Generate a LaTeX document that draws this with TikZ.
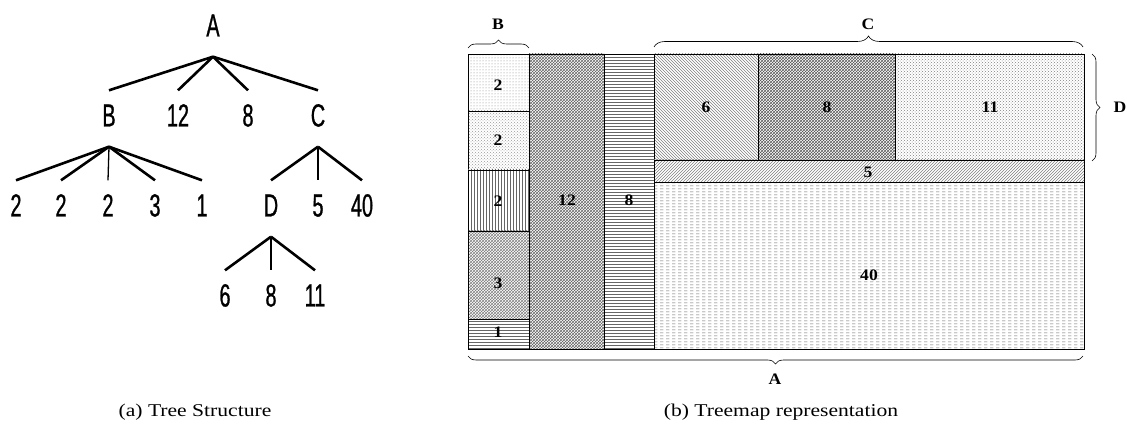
\documentclass[tikz,border=0pt]{standalone}
\usepackage{fontspec}
\usetikzlibrary{patterns,decorations.pathreplacing}
\newfontfamily\treefont[FakeStretch=0.62,FakeBold=0.8]{Liberation Sans}
\newfontfamily\mapfont[FakeStretch=1.1]{Liberation Serif}
\newfontfamily\capfont[FakeStretch=1.2]{Liberation Serif}
\pgfdeclarepatternformonly{dashrows}{\pgfqpoint{0pt}{0pt}}{\pgfqpoint{6pt}{3pt}}{\pgfqpoint{6pt}{3pt}}%
  {\pgfpathrectangle{\pgfqpoint{0pt}{1pt}}{\pgfqpoint{4pt}{0.9pt}}\pgfusepath{fill}}
\tikzset{
  tlabel/.style={font=\treefont\fontsize{32}{32}\selectfont,inner xsep=0pt,inner ysep=13pt,text height=23pt,text depth=0pt},
  branch/.style={line width=2.6pt},
  stem/.style={line width=1.3pt},
  cell/.style={draw=black,line width=0.8pt},
  val/.style={font=\mapfont\bfseries\fontsize{16}{16}\selectfont,inner sep=0pt},
  mbrace/.style={decorate,decoration={brace,amplitude=#1},line width=0.6pt},
  caption/.style={font=\capfont\fontsize{18}{18}\selectfont,inner sep=0pt}
}
\begin{document}
\begin{tikzpicture}[x=1pt,y=-1pt]
\useasboundingbox (0,0) rectangle (1127,427);
% (a) tree
\node[tlabel] (A) at (213,25) {A};
\node[tlabel] (B) at (109,115) {B};  \node[tlabel] (n12) at (178,115) {12}; \node[tlabel] (n8) at (248,115) {8}; \node[tlabel] (C) at (318,115) {C};
\node[tlabel] (b1) at (16,205) {2};  \node[tlabel] (b2) at (61,205) {2};  \node[tlabel] (b3) at (108,205) {2}; \node[tlabel] (b4) at (155,205) {3}; \node[tlabel] (b5) at (202,205) {1};
\node[tlabel] (D) at (271,205) {D};  \node[tlabel] (c5) at (318,205) {5};  \node[tlabel] (c40) at (362,205) {40};
\node[tlabel] (d6) at (225,295) {6}; \node[tlabel] (d8) at (271,295) {8}; \node[tlabel] (d11) at (315,295) {11};
\foreach \P/\Q in {A/B,A/n12,A/n8,A/C,B/b1,B/b2,B/b4,B/b5,C/D,C/c40,D/d6,D/d11}{\draw[branch] ([yshift=-7pt]\P.south) -- (\Q.north);}
\foreach \P/\Q in {B/b3,C/c5,D/d8}{\draw[stem] ([yshift=-7pt]\P.south) -- (\Q.north);}
% (b) treemap
\foreach \x/\y/\X/\Y/\pat/\shade in {
  468/54/529/111/dots/gray,
  468/111/529/170/crosshatch dots/gray!80,
  468/170/529/231/vertical lines/gray!80!black,
  468/231/529/319/crosshatch/gray,
  468/319/529/349/horizontal lines/gray!80!black,
  529/54/604/349/crosshatch/gray!80!black,
  604/54/654/349/horizontal lines/gray!80!black,
  654/54/758/160/north west lines/gray,
  758/54/895/160/crosshatch/gray!70!black,
  895/54/1084/160/crosshatch dots/gray,
  654/160/1084/182/north east lines/gray,
  654/182/1084/349/dashrows/gray!80!black}
  {\draw[cell,pattern=\pat,pattern color=\shade] (\x,\y) rectangle (\X,\Y);}
\foreach \n/\x/\y/\t in {v1/498/85/2,v2/498/140/2,v3/498/201/2,v4/498/283/3,v5/498/332/1,
  v12/567/200/12,v8/629/200/8,w6/706/107/6,w8/827/107/8,w11/990/107/11,w5/868/172/5,w40/869/275/40}
  {\node[val] (\n) at (\x,\y) {\t};}
% braces
\draw[mbrace=8pt] (468,48) -- (529,48);
\draw[mbrace=11pt] (654,47) -- (1083,47);
\draw[mbrace=8pt] (1092,54) -- (1092,161);
\draw[mbrace=8pt] (1083,356) -- (468,356);
\node[val] (lB) at (498,24) {B};
\node[val] (lC) at (868,24) {C};
\node[val] (lD) at (1120,107) {D};
\node[val] (lA) at (775,379) {A};
% captions
\node[caption] (capa) at (195,412) {(a) Tree Structure};
\node[caption] (capb) at (781,412) {(b) Treemap representation};
\end{tikzpicture}
\end{document}
